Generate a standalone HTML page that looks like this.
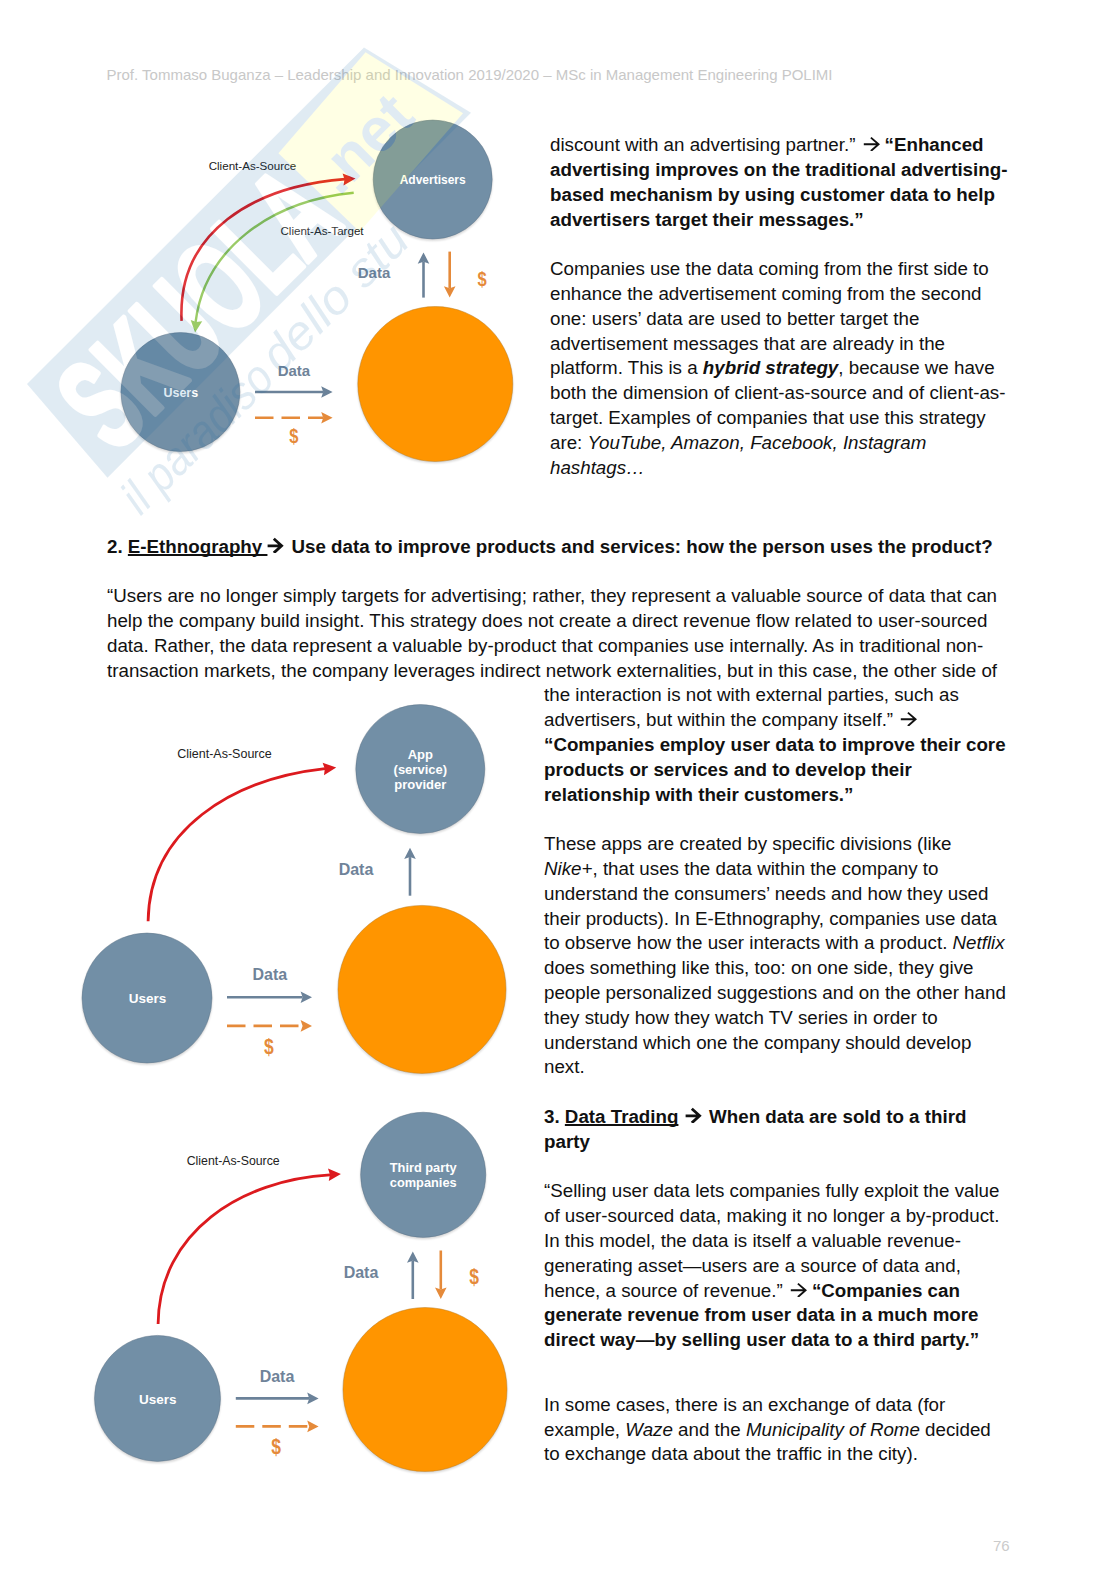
<!DOCTYPE html>
<html><head><meta charset="utf-8">
<style>
html,body{margin:0;padding:0;background:#fff;}
body{width:1116px;height:1579px;position:relative;overflow:hidden;font-family:"Liberation Sans",sans-serif;}
.l{position:absolute;white-space:pre;font-size:18.75px;line-height:18.75px;color:#111;}
.hdr{position:absolute;left:106.5px;top:67px;font-size:15px;line-height:15px;color:#c8c8c8;white-space:pre;}
.pn{position:absolute;left:993px;top:1538px;font-size:15px;line-height:15px;color:#cbcbcb;white-space:pre;}
u{text-decoration-thickness:1.8px;text-underline-offset:1.2px;text-decoration-skip-ink:none;}
.ar{display:inline-block;width:18.75px;height:1px;position:relative;}
.ar svg{position:absolute;left:0;top:auto;bottom:0;}
svg.main{position:absolute;left:0;top:0;}
svg text{font-family:"Liberation Sans",sans-serif;}
</style></head><body>
<svg class="main" width="1116" height="1579" viewBox="0 0 1116 1579">
<defs><filter id="blur" x="-20%" y="-20%" width="140%" height="140%"><feGaussianBlur stdDeviation="1.2"/></filter></defs>
<circle cx="432.7" cy="181.1" r="59.7" fill="#000" opacity="0.16" filter="url(#blur)"/><circle cx="432.7" cy="179.5" r="59.5" fill="#728fa6" stroke="#5c7086" stroke-opacity="0.45" stroke-width="1"/><circle cx="435.3" cy="385.6" r="77.7" fill="#000" opacity="0.16" filter="url(#blur)"/><circle cx="435.3" cy="384" r="77.5" fill="#ff9500" stroke="#b5781c" stroke-opacity="0.45" stroke-width="1"/><circle cx="180.4" cy="393.6" r="59.7" fill="#000" opacity="0.16" filter="url(#blur)"/><circle cx="180.4" cy="392" r="59.5" fill="#728fa6" stroke="#5c7086" stroke-opacity="0.45" stroke-width="1"/><text x="432.7" y="184" font-size="12" fill="#fff" font-weight="700" text-anchor="middle">Advertisers</text><text x="180.8" y="396.5" font-size="12.5" fill="#fff" font-weight="700" text-anchor="middle">Users</text><text x="252.5" y="169.6" font-size="11.6" fill="#222" font-weight="400" text-anchor="middle">Client-As-Source</text><text x="322" y="234.6" font-size="11.6" fill="#222" font-weight="400" text-anchor="middle">Client-As-Target</text><text x="374" y="278" font-size="15" fill="#6f8399" font-weight="700" text-anchor="middle">Data</text><text transform="translate(482,285.5) scale(1,1.22)" font-size="16.5" fill="#e58a3a" font-weight="700" text-anchor="middle">$</text><text x="293.9" y="375.5" font-size="15" fill="#6f8399" font-weight="700" text-anchor="middle">Data</text><text transform="translate(293.9,443.0) scale(1,1.22)" font-size="16.5" fill="#e58a3a" font-weight="700" text-anchor="middle">$</text><line x1="423.5" y1="297.6" x2="423.5" y2="261.8" stroke="#6b8299" stroke-width="2.6"/><path d="M423.5,252.4 L417.7,263.8 L423.5,261.8 L429.3,263.8 Z" fill="#6b8299"/><line x1="449.7" y1="251.6" x2="449.7" y2="288.20000000000005" stroke="#e58a3a" stroke-width="2.6"/><path d="M449.7,297.6 L443.9,286.20000000000005 L449.7,288.20000000000005 L455.5,286.20000000000005 Z" fill="#e58a3a"/><line x1="255" y1="392" x2="323.20000000000005" y2="392" stroke="#6b8299" stroke-width="2.6"/><path d="M332.6,392 L321.20000000000005,386.2 L323.20000000000005,392 L321.20000000000005,397.8 Z" fill="#6b8299"/><line x1="255" y1="417.8" x2="323.20000000000005" y2="417.8" stroke="#e58a3a" stroke-width="2.6" stroke-dasharray="18.5 8"/><path d="M332.6,417.8 L321.20000000000005,412.0 L323.20000000000005,417.8 L321.20000000000005,423.6 Z" fill="#e58a3a"/><path d="M181.6,320.9 C177.2,231.4 253.8,186.4 345,179.1" fill="none" stroke="#dc1a1e" stroke-width="2.6"/><path d="M355.5,178.4 L343.5,185.4 L344.5,179.3 L342.6,173.4 Z" fill="#dc1a1e"/><path d="M353.7,192.8 C268.8,201.2 204.6,250.2 195.6,322" fill="none" stroke="#8dc452" stroke-width="2.4"/><path d="M195.1,332.5 L190.7,319.9 L196.3,322.1 L202.2,321.2 Z" fill="#8dc452"/><circle cx="420.3" cy="770.6" r="64.7" fill="#000" opacity="0.16" filter="url(#blur)"/><circle cx="420.3" cy="769" r="64.5" fill="#728fa6" stroke="#5c7086" stroke-opacity="0.45" stroke-width="1"/><circle cx="422" cy="991.0" r="84.2" fill="#000" opacity="0.16" filter="url(#blur)"/><circle cx="422" cy="989.4" r="84" fill="#ff9500" stroke="#b5781c" stroke-opacity="0.45" stroke-width="1"/><circle cx="147" cy="999.6" r="65.2" fill="#000" opacity="0.16" filter="url(#blur)"/><circle cx="147" cy="998" r="65" fill="#728fa6" stroke="#5c7086" stroke-opacity="0.45" stroke-width="1"/><text x="420.3" y="758.8" font-size="13" fill="#fff" font-weight="700" text-anchor="middle">App</text><text x="420.3" y="773.9" font-size="13" fill="#fff" font-weight="700" text-anchor="middle">(service)</text><text x="420.3" y="788.9" font-size="13" fill="#fff" font-weight="700" text-anchor="middle">provider</text><text x="147.5" y="1003" font-size="13.5" fill="#fff" font-weight="700" text-anchor="middle">Users</text><text x="224.5" y="758.3" font-size="12.5" fill="#222" font-weight="400" text-anchor="middle">Client-As-Source</text><text x="356" y="875" font-size="16" fill="#6f8399" font-weight="700" text-anchor="middle">Data</text><text x="269.8" y="979.5" font-size="16" fill="#6f8399" font-weight="700" text-anchor="middle">Data</text><text transform="translate(268.8,1053.5) scale(1,1.22)" font-size="17.5" fill="#e58a3a" font-weight="700" text-anchor="middle">$</text><line x1="410" y1="895.7" x2="410" y2="857.1" stroke="#6b8299" stroke-width="2.6"/><path d="M410,847.7 L404.2,859.1 L410,857.1 L415.8,859.1 Z" fill="#6b8299"/><line x1="227" y1="997.3" x2="302.6" y2="997.3" stroke="#6b8299" stroke-width="2.6"/><path d="M312,997.3 L300.6,991.5 L302.6,997.3 L300.6,1003.0999999999999 Z" fill="#6b8299"/><line x1="227" y1="1025.9" x2="302.6" y2="1025.9" stroke="#e58a3a" stroke-width="2.6" stroke-dasharray="18.5 8"/><path d="M312,1025.9 L300.6,1020.1000000000001 L302.6,1025.9 L300.6,1031.7 Z" fill="#e58a3a"/><path d="M148.1,921.3 C149.2,829.7 231.9,779 325,768.7" fill="none" stroke="#dc1a1e" stroke-width="2.8"/><path d="M336.2,767.5 L324.0,775.2 L324.8,768.8 L322.6,762.7 Z" fill="#dc1a1e"/><circle cx="423.2" cy="1176.3999999999999" r="62.800000000000004" fill="#000" opacity="0.16" filter="url(#blur)"/><circle cx="423.2" cy="1174.8" r="62.6" fill="#728fa6" stroke="#5c7086" stroke-opacity="0.45" stroke-width="1"/><circle cx="425" cy="1391.1" r="82.2" fill="#000" opacity="0.16" filter="url(#blur)"/><circle cx="425" cy="1389.5" r="82" fill="#ff9500" stroke="#b5781c" stroke-opacity="0.45" stroke-width="1"/><circle cx="157.5" cy="1400.0" r="63.2" fill="#000" opacity="0.16" filter="url(#blur)"/><circle cx="157.5" cy="1398.4" r="63" fill="#728fa6" stroke="#5c7086" stroke-opacity="0.45" stroke-width="1"/><text x="423.2" y="1171.7" font-size="12.8" fill="#fff" font-weight="700" text-anchor="middle">Third party</text><text x="423.2" y="1186.8" font-size="12.8" fill="#fff" font-weight="700" text-anchor="middle">companies</text><text x="157.7" y="1404.4" font-size="13.5" fill="#fff" font-weight="700" text-anchor="middle">Users</text><text x="233.2" y="1164.5" font-size="12.3" fill="#222" font-weight="400" text-anchor="middle">Client-As-Source</text><text x="361" y="1278.3" font-size="16" fill="#6f8399" font-weight="700" text-anchor="middle">Data</text><text transform="translate(474.2,1284.3) scale(1,1.22)" font-size="17.5" fill="#e58a3a" font-weight="700" text-anchor="middle">$</text><text x="277" y="1381.9" font-size="16" fill="#6f8399" font-weight="700" text-anchor="middle">Data</text><text transform="translate(276,1454.0) scale(1,1.22)" font-size="17.5" fill="#e58a3a" font-weight="700" text-anchor="middle">$</text><line x1="412.8" y1="1299" x2="412.8" y2="1260.8000000000002" stroke="#6b8299" stroke-width="2.6"/><path d="M412.8,1251.4 L407.0,1262.8000000000002 L412.8,1260.8000000000002 L418.6,1262.8000000000002 Z" fill="#6b8299"/><line x1="440.8" y1="1250.5" x2="440.8" y2="1289.6" stroke="#e58a3a" stroke-width="2.6"/><path d="M440.8,1299 L435.0,1287.6 L440.8,1289.6 L446.6,1287.6 Z" fill="#e58a3a"/><line x1="235.8" y1="1398.4" x2="309.20000000000005" y2="1398.4" stroke="#6b8299" stroke-width="2.6"/><path d="M318.6,1398.4 L307.20000000000005,1392.6000000000001 L309.20000000000005,1398.4 L307.20000000000005,1404.2 Z" fill="#6b8299"/><line x1="235.8" y1="1426.4" x2="309.20000000000005" y2="1426.4" stroke="#e58a3a" stroke-width="2.6" stroke-dasharray="18.5 8"/><path d="M318.6,1426.4 L307.20000000000005,1420.6000000000001 L309.20000000000005,1426.4 L307.20000000000005,1432.2 Z" fill="#e58a3a"/><path d="M158.1,1324 C159,1232 241.2,1179.9 330,1174.9" fill="none" stroke="#dc1a1e" stroke-width="2.8"/><path d="M340.9,1174.0 L328.8,1181.0 L329.9,1174.6 L328.0,1168.4 Z" fill="#dc1a1e"/>
</svg>
<svg class="main" width="1116" height="1579" viewBox="0 0 1116 1579" style="z-index:5"><defs><clipPath id="noadv" clipPathUnits="userSpaceOnUse"><path clip-rule="evenodd" transform="rotate(44.9) translate(-27,-384)" d="M-2000,-2000 H3000 V3000 H-2000 Z M432.7,119 A60.5,60.5 0 1 0 432.71,119 Z"/></clipPath></defs><g opacity="0.12"><polygon points="27,384 364,47.5 471,112.7 107.5,477.7" fill="#0d62a3"/><g transform="translate(27,384) rotate(-44.9)"><polygon points="341,14 474,4 500,116 343,127" fill="#ffff2e"/><text x="12" y="112" font-size="132" font-weight="700" fill="#fff" stroke="#fff" stroke-width="5" stroke-linejoin="round" textLength="326" lengthAdjust="spacingAndGlyphs">SKUOLA</text><text x="353" y="88" font-size="62" font-weight="700" fill="#0d62a3">.net</text><text x="-13" y="174" font-size="48" font-style="italic" fill="#0d62a3" textLength="192" lengthAdjust="spacingAndGlyphs">il paradiso</text><text x="186" y="172" font-size="48" font-style="italic" fill="#0d62a3" textLength="186" lengthAdjust="spacingAndGlyphs">dello stu</text></g></g></svg>
<div class="hdr">Prof. Tommaso Buganza – Leadership and Innovation 2019/2020 – MSc in Management Engineering POLIMI</div>
<div class="l" style="left:550px;top:136.20px">discount with an advertising partner.” <span class="ar"><svg width="19" height="20" viewBox="0 0 19 20"><path d="M2.8,13.3 H17.4 M9.9,6.6 L17.6,13.3 L9.9,20" fill="none" stroke="#111" stroke-width="1.9"/></svg></span> <b>“Enhanced</b></div>
<div class="l" style="left:550px;top:161.00px"><b>advertising improves on the traditional advertising-</b></div>
<div class="l" style="left:550px;top:185.80px"><b>based mechanism by using customer data to help</b></div>
<div class="l" style="left:550px;top:210.60px"><b>advertisers target their messages.”</b></div>
<div class="l" style="left:550px;top:260.20px">Companies use the data coming from the first side to</div>
<div class="l" style="left:550px;top:285.00px">enhance the advertisement coming from the second</div>
<div class="l" style="left:550px;top:309.80px">one: users’ data are used to better target the</div>
<div class="l" style="left:550px;top:334.60px">advertisement messages that are already in the</div>
<div class="l" style="left:550px;top:359.40px">platform. This is a <b><i>hybrid strategy</i></b>, because we have</div>
<div class="l" style="left:550px;top:384.20px">both the dimension of client-as-source and of client-as-</div>
<div class="l" style="left:550px;top:409.00px">target. Examples of companies that use this strategy</div>
<div class="l" style="left:550px;top:433.80px">are: <i>YouTube, Amazon, Facebook, Instagram</i></div>
<div class="l" style="left:550px;top:458.60px"><i>hashtags…</i></div>
<div class="l" style="left:107px;top:538.40px"><b>2. <u>E-Ethnography </u><span class="ar"><svg width="19" height="20" viewBox="0 0 19 20"><path d="M0.6,12.8 H14.5 M6.8,5.7 L14.6,12.8 L6.8,19.9" fill="none" stroke="#111" stroke-width="2.8"/></svg></span> Use data to improve products and services: how the person uses the product?</b></div>
<div class="l" style="left:107px;top:587.10px">“Users are no longer simply targets for advertising; rather, they represent a valuable source of data that can</div>
<div class="l" style="left:107px;top:611.90px">help the company build insight. This strategy does not create a direct revenue flow related to user-sourced</div>
<div class="l" style="left:107px;top:636.70px">data. Rather, the data represent a valuable by-product that companies use internally. As in traditional non-</div>
<div class="l" style="left:107px;top:661.50px">transaction markets, the company leverages indirect network externalities, but in this case, the other side of</div>
<div class="l" style="left:544px;top:686.30px">the interaction is not with external parties, such as</div>
<div class="l" style="left:544px;top:711.10px">advertisers, but within the company itself.” <span class="ar"><svg width="19" height="20" viewBox="0 0 19 20"><path d="M2.8,13.3 H17.4 M9.9,6.6 L17.6,13.3 L9.9,20" fill="none" stroke="#111" stroke-width="1.9"/></svg></span></div>
<div class="l" style="left:544px;top:735.90px"><b>“Companies employ user data to improve their core</b></div>
<div class="l" style="left:544px;top:760.70px"><b>products or services and to develop their</b></div>
<div class="l" style="left:544px;top:785.50px"><b>relationship with their customers.”</b></div>
<div class="l" style="left:544px;top:835.10px">These apps are created by specific divisions (like</div>
<div class="l" style="left:544px;top:859.90px"><i>Nike+</i>, that uses the data within the company to</div>
<div class="l" style="left:544px;top:884.70px">understand the consumers’ needs and how they used</div>
<div class="l" style="left:544px;top:909.50px">their products). In E-Ethnography, companies use data</div>
<div class="l" style="left:544px;top:934.30px">to observe how the user interacts with a product. <i>Netflix</i></div>
<div class="l" style="left:544px;top:959.10px">does something like this, too: on one side, they give</div>
<div class="l" style="left:544px;top:983.90px">people personalized suggestions and on the other hand</div>
<div class="l" style="left:544px;top:1008.70px">they study how they watch TV series in order to</div>
<div class="l" style="left:544px;top:1033.50px">understand which one the company should develop</div>
<div class="l" style="left:544px;top:1058.30px">next.</div>
<div class="l" style="left:544px;top:1107.90px"><b>3. <u>Data Trading</u> <span style="margin-left:1.5px"></span><span class="ar"><svg width="19" height="20" viewBox="0 0 19 20"><path d="M0.6,12.8 H14.5 M6.8,5.7 L14.6,12.8 L6.8,19.9" fill="none" stroke="#111" stroke-width="2.8"/></svg></span> When data are sold to a third</b></div>
<div class="l" style="left:544px;top:1132.70px"><b>party</b></div>
<div class="l" style="left:544px;top:1182.30px">“Selling user data lets companies fully exploit the value</div>
<div class="l" style="left:544px;top:1207.10px">of user-sourced data, making it no longer a by-product.</div>
<div class="l" style="left:544px;top:1231.90px">In this model, the data is itself a valuable revenue-</div>
<div class="l" style="left:544px;top:1256.70px">generating asset—users are a source of data and,</div>
<div class="l" style="left:544px;top:1281.50px">hence, a source of revenue.” <span class="ar"><svg width="19" height="20" viewBox="0 0 19 20"><path d="M2.8,13.3 H17.4 M9.9,6.6 L17.6,13.3 L9.9,20" fill="none" stroke="#111" stroke-width="1.9"/></svg></span> <b>“Companies can</b></div>
<div class="l" style="left:544px;top:1306.30px"><b>generate revenue from user data in a much more</b></div>
<div class="l" style="left:544px;top:1331.10px"><b>direct way—by selling user data to a third party.”</b></div>
<div class="l" style="left:544px;top:1395.80px">In some cases, there is an exchange of data (for</div>
<div class="l" style="left:544px;top:1420.60px">example, <i>Waze</i> and the <i>Municipality of Rome</i> decided</div>
<div class="l" style="left:544px;top:1445.40px">to exchange data about the traffic in the city).</div>

<div class="pn">76</div>
</body></html>
